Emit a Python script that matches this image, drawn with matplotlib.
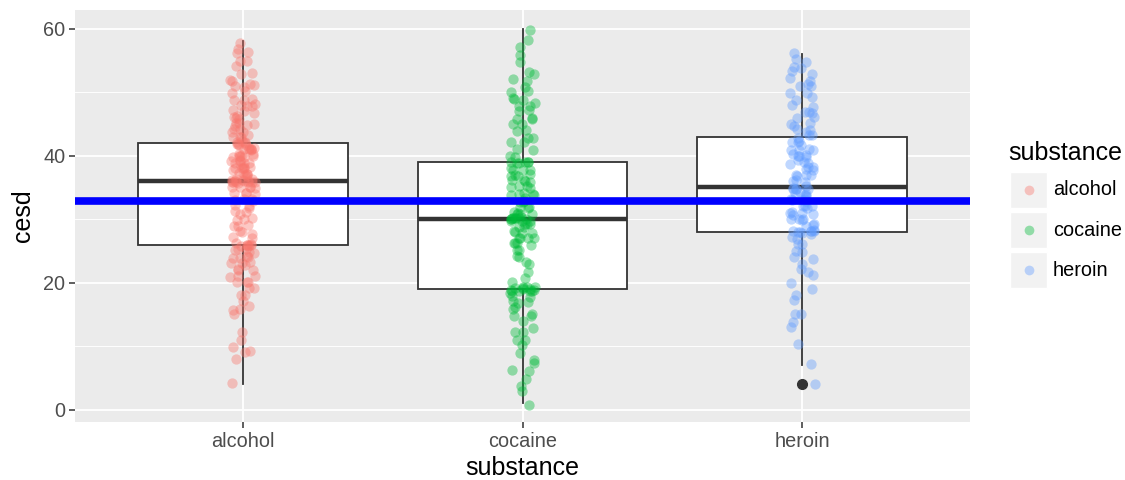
import numpy as np
import matplotlib
matplotlib.use("Agg")
import matplotlib.pyplot as plt
from matplotlib.patches import Rectangle
from matplotlib.lines import Line2D

plt.rcParams['font.family'] = ['Liberation Sans', 'DejaVu Sans']

categories = ["alcohol", "cocaine", "heroin"]
colors = ["#F8766D", "#00BA38", "#619CFF"]

def rep(pairs):
    out = []
    for v, n in pairs:
        out += [v] * n
    return out

# cesd values (value, count)
alcohol = rep([(4, 1), (8, 1), (9, 2), (10, 1), (11, 1), (12, 1), (15, 1), (16, 3), (17, 1),
               (18, 2), (19, 2), (20, 3), (21, 3), (22, 3), (23, 4), (24, 4), (25, 5),
               (26, 8), (27, 2), (28, 3), (29, 3), (30, 3), (31, 3), (32, 3), (33, 4),
               (34, 4), (35, 5), (36, 14), (37, 6), (38, 7), (39, 7), (40, 8), (41, 7),
               (42, 8), (43, 4), (44, 4), (45, 5), (46, 4), (47, 3), (48, 4), (49, 3),
               (50, 2), (51, 4), (52, 2), (53, 2), (54, 1), (55, 2), (56, 2), (57, 1),
               (58, 1)])
cocaine = rep([(1, 1), (3, 1), (4, 1), (5, 1), (6, 2), (7, 1), (8, 1), (9, 1), (10, 1),
               (11, 2), (12, 2), (13, 1), (14, 1), (15, 3), (16, 2), (17, 3), (18, 3),
               (19, 13), (20, 1), (21, 1), (22, 1), (23, 2), (24, 2), (25, 2), (26, 4),
               (27, 4), (28, 4), (29, 5), (30, 12), (31, 5), (32, 3), (33, 4), (34, 5),
               (35, 4), (36, 4), (37, 4), (38, 4), (39, 6), (40, 2), (41, 2), (42, 2),
               (43, 2), (44, 2), (45, 2), (46, 3), (47, 2), (48, 3), (49, 3), (50, 2),
               (51, 1), (52, 2), (53, 2), (55, 1), (56, 1), (57, 1), (58, 1), (60, 1)])
heroin = ([4, 7, 10, 13, 14, 15, 15, 17, 18, 19, 20, 21, 22, 22, 23, 24, 24, 25, 25, 26,
           26, 27, 27]
          + rep([(28, 9), (29, 3), (30, 4), (31, 5), (32, 4), (33, 5), (34, 5), (35, 6),
                 (36, 3), (37, 4), (38, 4), (39, 4), (40, 5), (41, 4), (42, 4), (43, 3),
                 (44, 3), (45, 3), (46, 2), (47, 3), (48, 2), (49, 2), (50, 2), (51, 3),
                 (52, 2), (53, 2), (54, 2), (55, 2), (56, 1)]))
groups = [alcohol, cocaine, heroin]
overall_mean = 32.85

W, H = 1125, 480
fig = plt.figure(figsize=(W / 100, H / 100), dpi=100)
ax = fig.add_axes([75 / W, (H - 422) / H, (970 - 75) / W, (422 - 10) / H])
ax.set_facecolor("#EBEBEB")
for s in ax.spines.values():
    s.set_visible(False)

positions = [1, 2, 3]
ax.boxplot(groups, positions=positions, widths=0.75, whis=1.5, patch_artist=True,
           boxprops=dict(facecolor="white", edgecolor="#333333", linewidth=1.3),
           medianprops=dict(color="#333333", linewidth=3.2),
           whiskerprops=dict(color="#333333", linewidth=1.3),
           capprops=dict(linewidth=0),
           flierprops=dict(marker="o", markerfacecolor="#333333", markeredgecolor="#333333",
                           markersize=7),
           zorder=2)

rng = np.random.default_rng(3)
for pos, vals, c in zip(positions, groups, colors):
    vals = np.asarray(vals, dtype=float)
    xj = pos + rng.uniform(-0.045, 0.045, size=len(vals))
    yj = vals + rng.uniform(-0.3, 0.3, size=len(vals))
    ax.scatter(xj, yj, s=55, color=c, alpha=0.4, linewidths=0, zorder=3)

ax.axhline(overall_mean, color="#0000FF", linewidth=5.5, zorder=4)

ax.set_xlim(0.4, 3.6)
ax.set_ylim(-1.95, 62.95)
ax.set_yticks([0, 20, 40, 60])
ax.set_yticks([10, 30, 50], minor=True)
ax.set_xticks(positions)
ax.set_xticklabels(categories)
ax.grid(True, which="major", color="white", linewidth=1.3, zorder=0)
ax.grid(True, which="minor", axis="y", color="white", linewidth=0.65, zorder=0)
ax.set_axisbelow(True)
ax.tick_params(axis="both", which="major", colors="#333333", length=4, width=1.1,
               labelsize=14.3, labelcolor="#4D4D4D", pad=3)
ax.tick_params(axis="y", which="minor", length=0)
ax.set_xlabel("substance", fontsize=18, color="black", labelpad=4)
ax.set_ylabel("cesd", fontsize=18, color="black", labelpad=6)

# legend
fig.text(1008 / W, 1 - 153 / H, "substance", fontsize=18, ha="left", va="center")
for i, (cat, c) in enumerate(zip(categories, colors)):
    yc = 190 + 40 * i
    fig.patches.append(Rectangle((1010 / W, 1 - (yc + 18) / H), 37 / W, 36 / H,
                                 transform=fig.transFigure, facecolor="#F2F2F2",
                                 edgecolor="white", linewidth=1))
    fig.lines.append(Line2D([1028.5 / W], [1 - yc / H], transform=fig.transFigure,
                            marker="o", markersize=7, color=c, alpha=0.4,
                            markeredgewidth=0, linestyle="none"))
    fig.text(1053 / W, 1 - yc / H, cat, fontsize=14.3, ha="left", va="center")

fig.savefig("out.png", dpi=100)
